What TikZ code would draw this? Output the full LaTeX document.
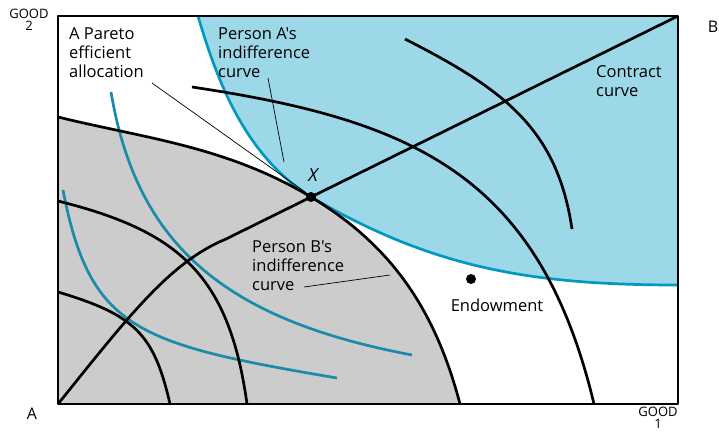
\documentclass[tikz,border=0pt]{standalone}
\usepackage{fontspec}
\setmainfont{Open Sans}[Ligatures=TeXOff]
\usepackage{tikz}
\definecolor{skyfill}{RGB}{157,216,233}
\definecolor{acurve}{RGB}{0,153,192}
\definecolor{bcurve}{RGB}{26,139,168}
\definecolor{greyfill}{RGB}{204,204,204}
\def\drawblack{\draw[line width=2.7pt]}
\def\drawteal{\draw[color=bcurve, line width=2.7pt]}
\def\dotnode{\node[circle,fill=black,inner sep=0pt,minimum size=10pt]}

\begin{document}
\begin{tikzpicture}[x=1pt,y=-1pt,line join=round,
  lbl/.style={align=left,inner sep=0pt,anchor=north west,font=\fontsize{16.5}{19}\selectfont},
  goodlbl/.style={align=center,inner sep=0pt,font=\fontsize{13}{12.5}\selectfont},
  pointer/.style={line width=0.7pt}]
\useasboundingbox (0,0) rectangle (719,434);
\coordinate (A) at (58,404);
\coordinate (B) at (678,16);
\coordinate (X) at (311,197);
\coordinate (bend) at (226,239);
\fill[greyfill] (A) -- (58,117) .. controls (143,138) and (226,146) .. (X)
  .. controls (391,245) and (435,309) .. (460,404) -- cycle;
\fill[skyfill] (198,16) .. controls (218,84) and (246,156) .. (X)
  .. controls (431,267) and (528,285) .. (678,285) -- (B) -- cycle;
\draw[color=acurve, line width=2.7pt] (198,16) .. controls (218,84) and (246,156) .. (X)
  .. controls (431,267) and (528,285) .. (678,285);
\drawteal (111,92) .. controls (137,247) and (227,320) .. (412,355);
\drawteal (63,190) .. controls (90,330) and (137,344) .. (337,378);
\drawblack (58,292) .. controls (135,315) and (154,334) .. (170,404);
\drawblack (58,201) .. controls (178,231) and (229,274) .. (247,404);
\drawblack (58,117) .. controls (143,138) and (226,146) .. (X)
  .. controls (391,245) and (435,309) .. (460,404);
\drawblack (192,87) .. controls (412,120) and (539,174) .. (594,404);
\drawblack (405,39) .. controls (505,90) and (557,129) .. (572,229);
\drawblack (A) .. controls (128,317) and (170,262) .. (bend) -- (X) -- (B);
\draw[line width=2pt] (A) rectangle (B);
\dotnode (xdot) at (X) {};
\dotnode (endowdot) at (471,279) {};
\node[font=\fontsize{18}{20}\selectfont\itshape] (xlabel) at (313,175) {X};
\node[lbl] (pareto) at (69,27) {A Pareto\\efficient\\allocation};
\node[lbl] (persona) at (218,27) {Person A's\\indifference\\curve};
\node[lbl] (personb) at (252,241) {Person B's\\indifference\\curve};
\node[lbl] (contract) at (596,65) {Contract\\curve};
\node[lbl,anchor=north] (endow) at (497,299) {Endowment};
\node[goodlbl] (good2) at (29,20) {GOOD\\2};
\node[goodlbl] (good1) at (658,418) {GOOD\\1};
\node[font=\fontsize{16}{19}\selectfont] (alabel) at (32,414) {A};
\node[font=\fontsize{16}{19}\selectfont] (blabel) at (713,27) {B};
\coordinate (paretofoot) at (152,83);
\coordinate (paretotip) at (305,192);
\coordinate (personafoot) at (268,78);
\coordinate (personatip) at (284,162);
\coordinate (personbfoot) at (304,287);
\coordinate (personbtip) at (390,275);
\draw[pointer] (paretofoot) -- (paretotip);
\draw[pointer] (personafoot) -- (personatip);
\draw[pointer] (personbfoot) -- (personbtip);
\end{tikzpicture}
\end{document}
